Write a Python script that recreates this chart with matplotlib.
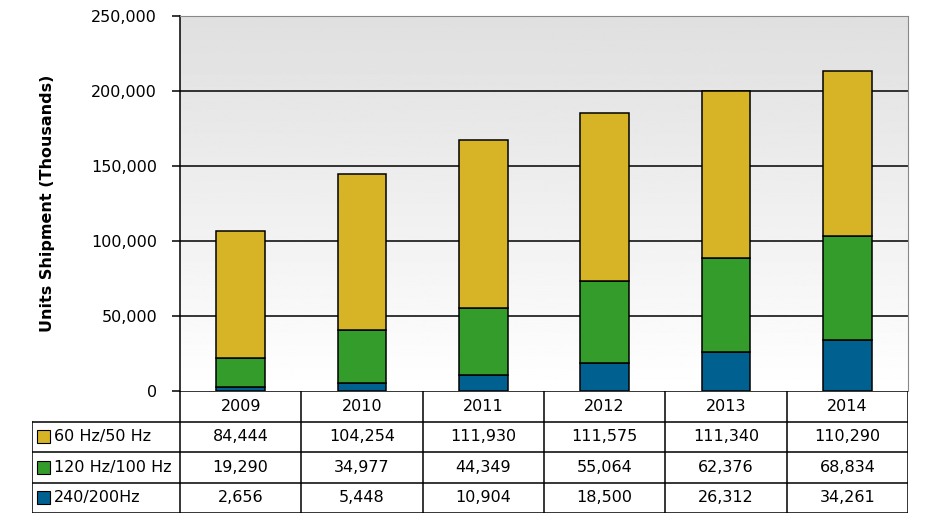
import matplotlib.pyplot as plt
import numpy as np
from matplotlib.patches import Rectangle

years = ['2009', '2010', '2011', '2012', '2013', '2014']
series_names = ['60 Hz/50 Hz', '120 Hz/100 Hz', '240/200Hz']
hz60 = [84444, 104254, 111930, 111575, 111340, 110290]
hz120 = [19290, 34977, 44349, 55064, 62376, 68834]
hz240 = [2656, 5448, 10904, 18500, 26312, 34261]
colors = ['#D6B426', '#349C2A', '#00608F']

W, H = 948, 529
fig = plt.figure(figsize=(W / 100, H / 100), dpi=100)
plt.rcParams['font.family'] = ['DejaVu Sans']

# pixel box of the plot area
x0, x1, y0, y1 = 180, 908, 16, 391
ax = fig.add_axes([x0 / W, 1 - y1 / H, (x1 - x0) / W, (y1 - y0) / H])

n = len(years)
x = np.arange(n)
ax.set_xlim(-0.5, n - 0.5)
ax.set_ylim(0, 250000)

# grey gradient background, darker at the top
grad = np.linspace(0.875, 1.0, 256).reshape(-1, 1)
ax.imshow(grad, cmap='gray', vmin=0, vmax=1, aspect='auto',
          extent=(-0.5, n - 0.5, 0, 250000), zorder=0)

for yv in [50000, 100000, 150000, 200000]:
    ax.axhline(yv, color='black', lw=1.1, zorder=1)

bottom = np.zeros(n)
stack = [hz240, hz120, hz60]
stack_colors = [colors[2], colors[1], colors[0]]
for vals, c in zip(stack, stack_colors):
    ax.bar(x, vals, width=0.40, bottom=bottom, color=c, edgecolor='black',
           linewidth=1.1, zorder=2)
    bottom += np.array(vals)

ax.set_xticks([])
ax.set_yticks(np.arange(0, 250001, 50000))
ax.set_yticklabels([f'{v:,}' for v in range(0, 250001, 50000)], fontsize=11.5)
ax.tick_params(axis='y', length=6, width=1.1, pad=10.5)
for s in ['top', 'right']:
    ax.spines[s].set_color('#888888')
ax.spines['left'].set_color('black')
ax.spines['left'].set_linewidth(1.1)
ax.spines['bottom'].set_visible(False)
ax.set_ylabel('Units Shipment (Thousands)', fontsize=11.5, fontweight='bold')
ax.yaxis.set_label_coords((55 - x0) / (x1 - x0), 0.5)

# data table below the chart
tx0, ty0, ty1 = 32, 391, 513
tax = fig.add_axes([tx0 / W, 1 - ty1 / H, (x1 - tx0) / W, (ty1 - ty0) / H])
colw = (x1 - x0) / n
lab_w = (x0 - tx0) / colw
tax.set_xlim(-lab_w, n)
tax.set_ylim(0, 4)
tax.invert_yaxis()
tax.axis('off')

lw = 1.1
# horizontal lines
tax.plot([0, n], [0, 0], color='black', lw=lw)
for r in range(1, 5):
    tax.plot([-lab_w, n], [r, r], color='black', lw=lw)
# vertical lines
tax.plot([-lab_w, -lab_w], [1, 4], color='black', lw=lw)
for c in range(n + 1):
    tax.plot([c, c], [0, 4], color='black', lw=lw)

for i, yr in enumerate(years):
    tax.text(i + 0.5, 0.5, yr, ha='center', va='center', fontsize=11.5)

rows = [hz60, hz120, hz240]
for r, (name, vals, c) in enumerate(zip(series_names, rows, colors)):
    yc = r + 1.5
    tax.add_patch(Rectangle((-lab_w + 0.045, yc - 0.22), 0.105, 0.44,
                            facecolor=c, edgecolor='black', lw=0.8))
    tax.text(-lab_w + 0.18, yc, name, ha='left', va='center', fontsize=11.5)
    for i, v in enumerate(vals):
        tax.text(i + 0.5, yc, f'{v:,}', ha='center', va='center', fontsize=11.5)

fig.savefig('out.png', dpi=100)
